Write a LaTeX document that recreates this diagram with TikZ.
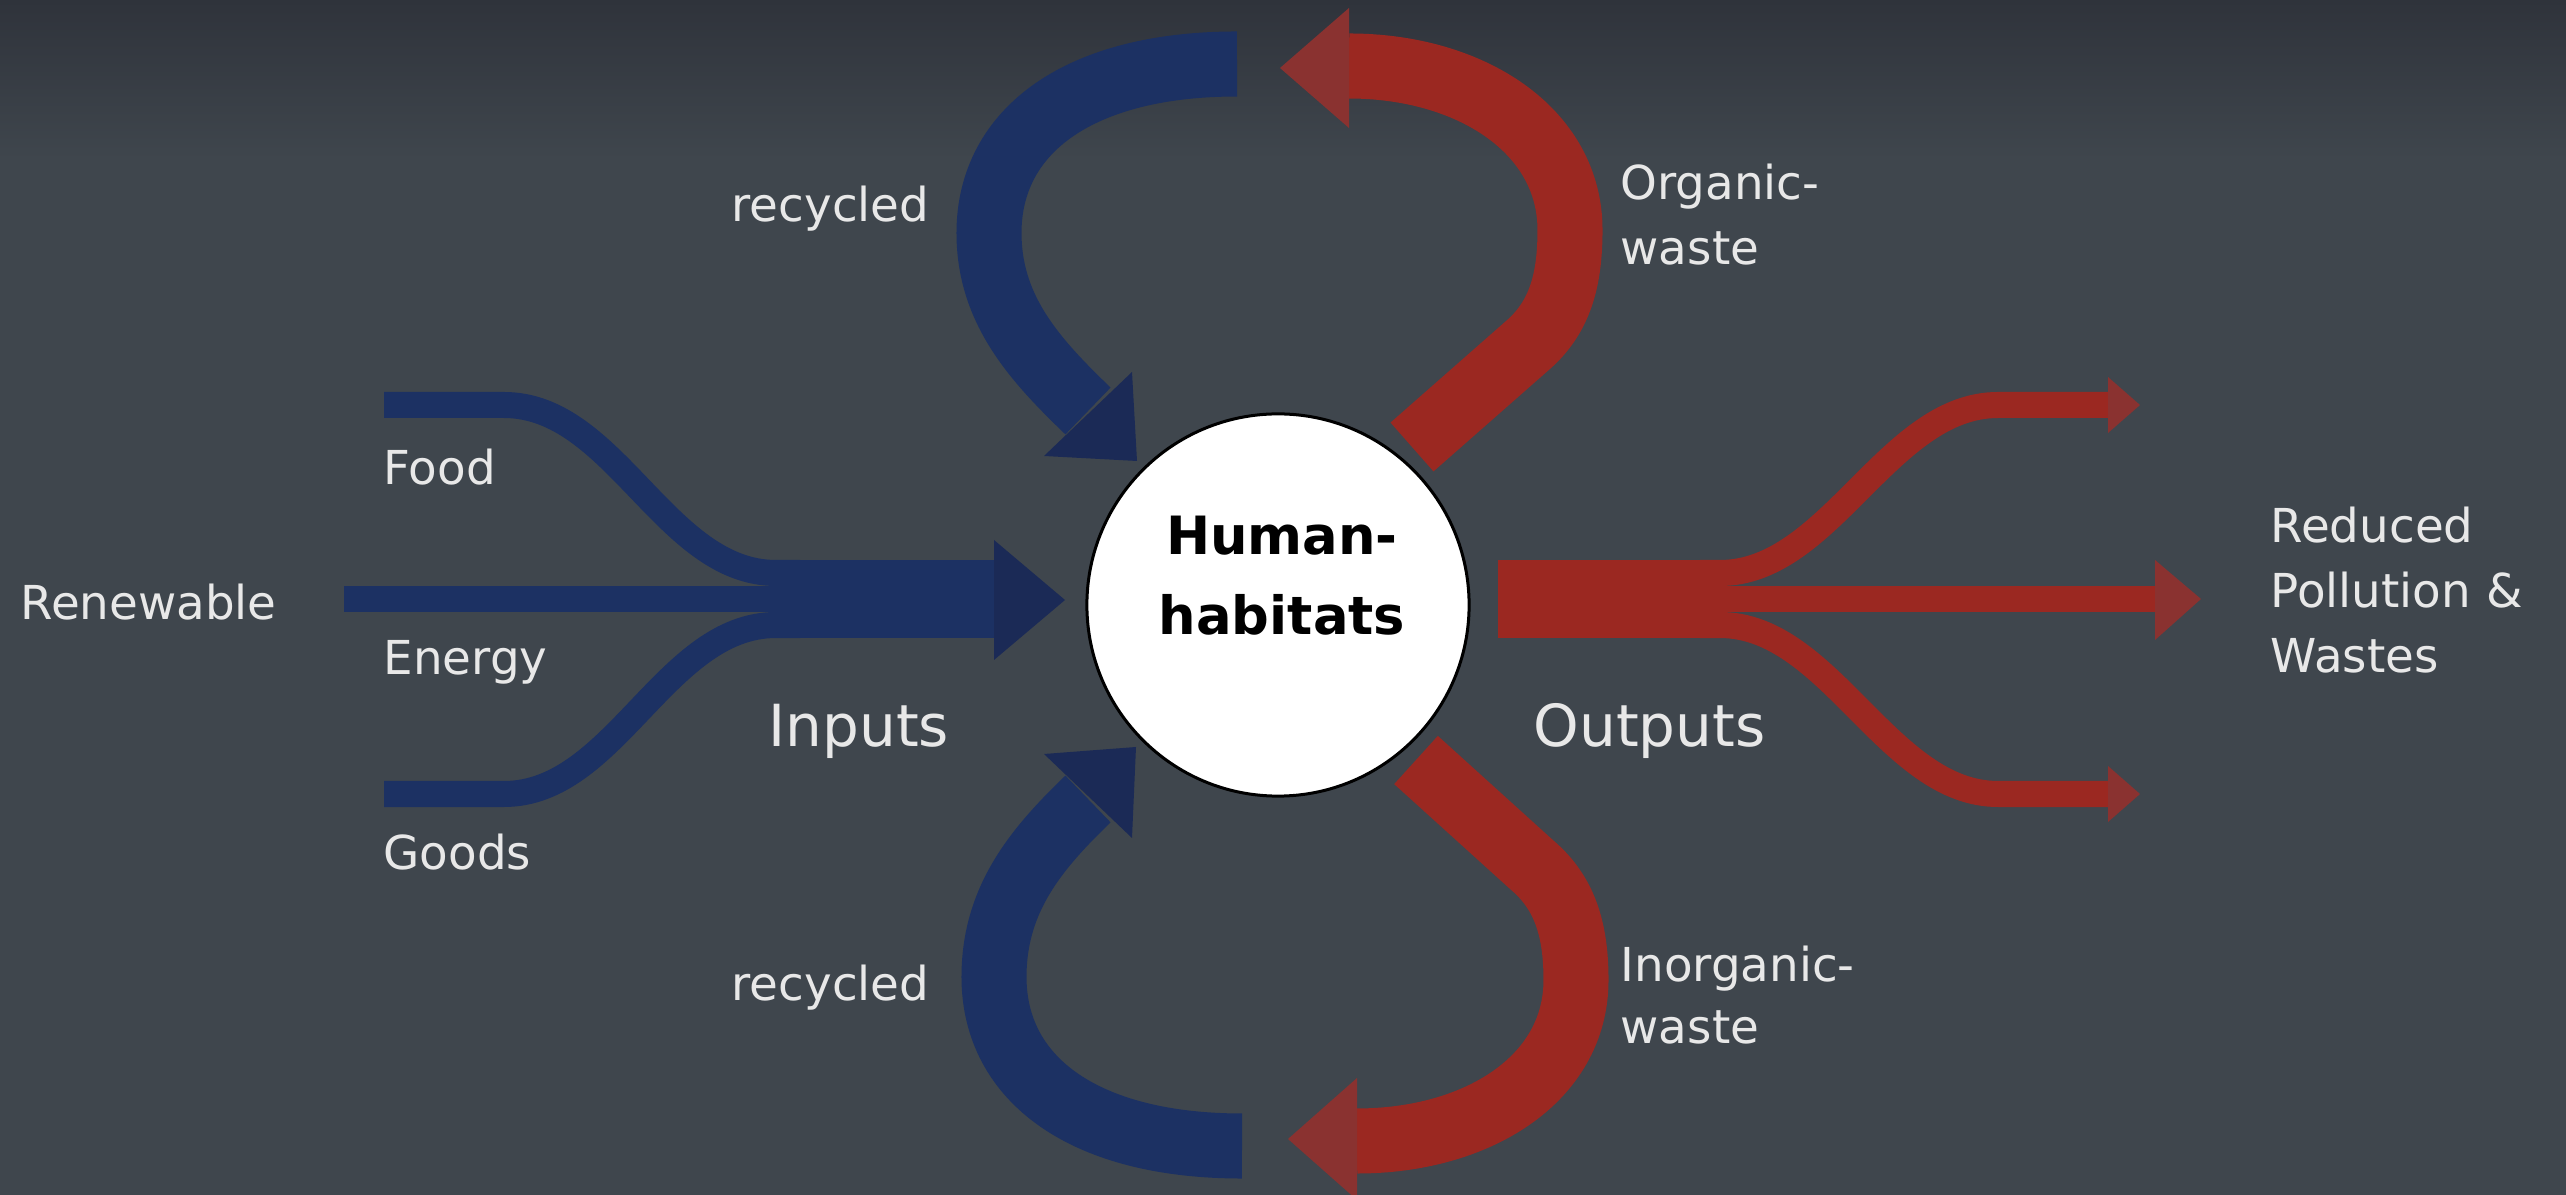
\documentclass[tikz,border=0pt]{standalone}
\usepackage{fontspec}
\setmainfont{DejaVu Sans}
\definecolor{bgmain}{HTML}{3F464D}
\definecolor{bgtop}{HTML}{2F333B}
\definecolor{bandblue}{HTML}{1C3163}
\definecolor{headblue}{HTML}{1B2A56}
\definecolor{bandred}{HTML}{9B2821}
\definecolor{headred}{HTML}{8A3230}
\definecolor{labelgray}{HTML}{E8E8E8}
\begin{document}
\begin{tikzpicture}[x=0.01cm,y=-0.01cm,
  lbl/.style={text=labelgray, font=\fontsize{13.3}{16}\selectfont, anchor=base west, inner sep=0pt},
  biglbl/.style={text=labelgray, font=\fontsize{16.5}{20}\selectfont, anchor=base west, inner sep=0pt},
  hablbl/.style={text=black, font=\bfseries\fontsize{15}{18}\selectfont, anchor=base, inner sep=0pt},
  bluestream/.style={draw=bandblue, line width=0.26cm, line cap=butt},
  redstream/.style={draw=bandred, line width=0.26cm, line cap=butt},
  bluearc/.style={draw=bandblue, line width=0.65cm, line cap=butt},
  redarc/.style={draw=bandred, line width=0.65cm, line cap=butt},
]
% background
\fill[bgmain] (0,0) rectangle (2566,1195);
\shade[top color=bgtop, bottom color=bgmain] (0,0) rectangle (2566,160);
\useasboundingbox (0,0) rectangle (2566,1195);

% ---- inputs: three streams merging into one trunk ----
\fill[bandblue] (775,560) rectangle (994,638);
\draw[bluestream] (384,405) -- (504,405) .. controls (615,405) and (665,573) .. (776,573) -- (800,573);
\draw[bluestream] (344,599) -- (800,599);
\draw[bluestream] (384,794) -- (504,794) .. controls (615,794) and (665,625) .. (776,625) -- (800,625);
\fill[headblue] (994,540) -- (1065,600) -- (994,660) -- cycle;

% ---- outputs: one trunk splitting into three streams ----
\fill[bandred] (1498,560) rectangle (1722,638);
\draw[redstream] (1700,573) -- (1720,573) .. controls (1830,573) and (1888,405) .. (1998,405) -- (2110,405);
\draw[redstream] (1700,599) -- (2157,599);
\draw[redstream] (1700,625) -- (1720,625) .. controls (1830,625) and (1888,794) .. (1998,794) -- (2110,794);
\fill[headred] (2108,377) -- (2140,405) -- (2108,433) -- cycle;
\fill[headred] (2155,560) -- (2201,599) -- (2155,640) -- cycle;
\fill[headred] (2108,766) -- (2140,794) -- (2108,822) -- cycle;

% ---- upper loop: organic waste out, recycled back in ----
\draw[redarc] (1412,447) -- (1528,345) .. controls (1560,317) and (1570,280) .. (1570,230)
  .. controls (1570,130) and (1470,66) .. (1349,66);
\fill[headred] (1349,8) -- (1280,68) -- (1349,128) -- cycle;
\draw[bluearc] (1237,64) .. controls (1080,64) and (989,130) .. (989,233)
  .. controls (989,310) and (1035,360) .. (1088,411);
\fill[headblue] (1132,372) -- (1137,461) -- (1044,456) -- cycle;

% ---- lower loop: inorganic waste out, recycled back in ----
\draw[redarc] (1416,760) -- (1532,865) .. controls (1565,893) and (1576,930) .. (1576,980)
  .. controls (1576,1080) and (1476,1141) .. (1357,1141);
\fill[headred] (1357,1078) -- (1288,1139) -- (1357,1200) -- cycle;
\draw[bluearc] (1242,1146) .. controls (1085,1146) and (994,1080) .. (994,977)
  .. controls (994,900) and (1035,850) .. (1088,799);
\fill[headblue] (1132,838) -- (1136,747) -- (1044,754) -- cycle;

% ---- centre ----
\node[circle, draw=black, line width=0.03cm, fill=white, minimum size=3.82cm, inner sep=0pt] (hab) at (1278,605) {};
\node[hablbl] (hab1) at (1282,555) {Human-};
\node[hablbl] (hab2) at (1282,635) {habitats};

% ---- labels ----
\node[lbl] (rectop) at (731,222) {recycled};
\node[lbl] (org1) at (1620,200) {Organic-};
\node[lbl] (org2) at (1620,265) {waste};
\node[lbl] (food) at (383,485) {Food};
\node[lbl] (renew) at (20,620) {Renewable};
\node[lbl] (energy) at (383,675) {Energy};
\node[lbl] (goods) at (383,870) {Goods};
\node[biglbl] (inputs) at (768,747) {Inputs};
\node[biglbl] (outputs) at (1533,747) {Outputs};
\node[lbl] (red1) at (2270,543) {Reduced};
\node[lbl] (red2) at (2270,608) {Pollution \&};
\node[lbl] (red3) at (2270,673) {Wastes};
\node[lbl] (recbot) at (731,1001) {recycled};
\node[lbl] (inorg1) at (1620,982) {Inorganic-};
\node[lbl] (inorg2) at (1620,1044) {waste};
\end{tikzpicture}
\end{document}
